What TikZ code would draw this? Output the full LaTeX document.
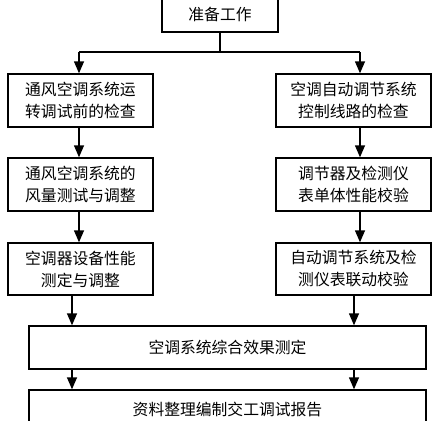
\documentclass[tikz,border=0pt]{standalone}
\usepackage{fontspec}
\setmainfont{Noto Sans CJK SC}
\usetikzlibrary{arrows.meta}
\begin{document}
\begin{tikzpicture}[x=1pt,y=-1pt,
  box/.style={draw,line width=1.4pt,inner sep=0pt,align=center,
    font=\fontsize{15.8}{22}\selectfont},
  arr/.style={line width=1.4pt,-{Triangle[length=12pt,width=10pt]}},
  ln/.style={line width=1.4pt}]
\useasboundingbox (0,0) rectangle (432,421);
\clip (0,0) rectangle (432,421);
\node[box,minimum width=116pt,minimum height=36pt] (top) at (220,14) {\raisebox{-4pt}{准备工作}};
\node[box,minimum width=145pt,minimum height=53pt] (L1) at (80.5,100.5) {通风空调系统运\\转调试前的检查};
\node[box,minimum width=155pt,minimum height=53pt] (R1) at (353.5,100.5) {空调自动调节系统\\控制线路的检查};
\node[box,minimum width=145pt,minimum height=53pt] (L2) at (80.5,184.5) {通风空调系统的\\风量测试与调整};
\node[box,minimum width=155pt,minimum height=53pt] (R2) at (353.5,184.5) {调节器及检测仪\\表单体性能校验};
\node[box,minimum width=145pt,minimum height=52pt] (L3) at (80.5,269) {空调器设备性能\\测定与调整};
\node[box,minimum width=155pt,minimum height=52pt] (R3) at (353.5,269) {自动调节系统及检\\测仪表联动校验};
\node[box,minimum width=397pt,minimum height=43pt] (B4) at (227.5,347.5) {空调系统综合效果测定};
\node[box,minimum width=397pt,minimum height=38pt] (B5) at (227.5,409) {资料整理编制交工调试报告};
\coordinate (split) at (220,52);
\coordinate (xl) at (79,0);
\coordinate (xr) at (360,0);
\coordinate (ax) at (72,0);
\coordinate (bx) at (354,0);
\draw[ln] (top) -- (split);
\draw[ln] (xl |- split) -- (xr |- split);
\draw[arr] (xl |- split) -- (xl |- L1.north);
\draw[arr] (xr |- split) -- (xr |- R1.north);
\draw[arr] (xl |- L1.south) -- (xl |- L2.north);
\draw[arr] (xr |- R1.south) -- (xr |- R2.north);
\draw[arr] (xl |- L2.south) -- (xl |- L3.north);
\draw[arr] (xr |- R2.south) -- (xr |- R3.north);
\draw[arr] (ax |- L3.south) -- (ax |- B4.north);
\draw[arr] (bx |- R3.south) -- (bx |- B4.north);
\draw[arr] (ax |- B4.south) -- (ax |- B5.north);
\draw[arr] (bx |- B4.south) -- (bx |- B5.north);
\end{tikzpicture}
\end{document}
